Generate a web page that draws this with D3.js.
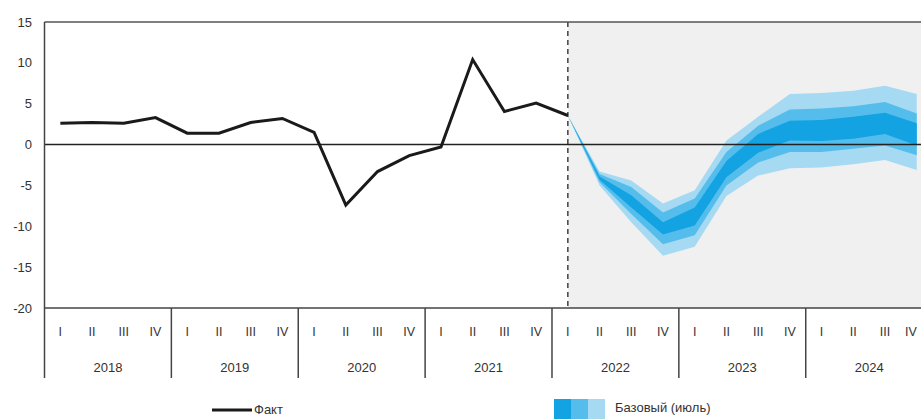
<!DOCTYPE html>
<html>
<head>
<meta charset="utf-8">
<script src="https://cdn.jsdelivr.net/npm/d3@7"></script>
<style>
  html, body { margin: 0; padding: 0; background: #fff; }
  svg { display: block; font-family: 'Liberation Sans Narrow', 'Arial Narrow', 'Liberation Sans', sans-serif; }
</style>
</head>
<body>
<svg id="chart" width="921" height="419"></svg>
<script>
// ---- data ----
const years = ["2018", "2019", "2020", "2021", "2022", "2023", "2024"];
const quarterNames = ["I", "II", "III", "IV"];
const yTicks = [15, 10, 5, 0, -5, -10, -15, -20];

// Fact series: 2018 Q1 .. 2022 Q1
const factValues = [2.6, 2.7, 2.6, 3.3, 1.4, 1.4, 2.7, 3.2, 1.5, -7.4, -3.3, -1.35, -0.3, 10.4, 4.05, 5.07, 3.56];

// Forecast fan: 2022 Q1 .. 2024 Q4
const lightUpper = [3.56, -3.3, -4.4, -7.2, -5.6, 0.5, 3.4, 6.2, 6.3, 6.6, 7.2, 6.2];
const midUpper   = [3.56, -3.6, -5.2, -8.3, -6.6, -0.9, 2.3, 4.3, 4.4, 4.7, 5.2, 3.8];
const darkUpper  = [3.56, -3.9, -6.2, -9.5, -7.7, -2.0, 1.3, 2.9, 3.0, 3.4, 3.9, 2.6];
const darkLower  = [3.56, -4.3, -7.7, -11.0, -9.9, -4.0, -1.0, 0.5, 0.45, 0.7, 1.3, -0.1];
const midLower   = [3.56, -4.6, -8.5, -12.2, -11.1, -5.0, -2.2, -0.9, -0.9, -0.5, -0.1, -1.3];
const lightLower = [3.56, -5.0, -9.5, -13.6, -12.5, -6.3, -3.8, -2.9, -2.8, -2.4, -1.9, -3.1];

const factLabel = "Факт";
const fanLabel = "Базовый (июль)";

(function () {
// ---- layout ----
const W = 921;
const pLeft = 44.5, pRight = 932.6, pTop = 22, pBottom = 308, axisBottom = 378;
const colors = { light: "#a6daf3", mid: "#55bdec", dark: "#13a3e2", bg: "#f0f0f0" };

const quarters = [];
years.forEach(yr => quarterNames.forEach(q => quarters.push(yr + "-" + q)));

const x = d3.scaleBand().domain(quarters).range([pLeft, pRight]).padding(0);
const cx = k => x(k) + x.bandwidth() / 2;
const y = d3.scaleLinear().domain([-20, 15]).range([pBottom, pTop]);

const svg = d3.select("#chart");

const factKeys = quarters.slice(0, factValues.length);
const fanStart = factValues.length - 1;
const fanKeys = quarters.slice(fanStart, fanStart + lightUpper.length);

// forecast background
const xStart = cx(fanKeys[0]);
svg.append("rect")
  .attr("x", xStart).attr("y", pTop)
  .attr("width", W - xStart).attr("height", pBottom - pTop)
  .attr("fill", colors.bg);

// fan bands
const bands = [
  { lo: lightLower, hi: lightUpper, c: colors.light },
  { lo: midLower, hi: midUpper, c: colors.mid },
  { lo: darkLower, hi: darkUpper, c: colors.dark }
];
bands.forEach(b => {
  const area = d3.area()
    .x((d, i) => cx(fanKeys[i]))
    .y0((d, i) => y(b.lo[i]))
    .y1((d, i) => y(b.hi[i]));
  svg.append("path").datum(b.hi).attr("d", area).attr("fill", b.c);
});

// zero line
svg.append("line")
  .attr("x1", pLeft).attr("x2", W)
  .attr("y1", y(0)).attr("y2", y(0))
  .attr("stroke", "#222").attr("stroke-width", 1.4);

// dashed divider
svg.append("line")
  .attr("x1", xStart).attr("x2", xStart)
  .attr("y1", pTop).attr("y2", pBottom)
  .attr("stroke", "#333").attr("stroke-width", 1.4)
  .attr("stroke-dasharray", "5,4");

// frame lines
svg.append("line").attr("x1", pLeft).attr("x2", W).attr("y1", pTop).attr("y2", pTop)
  .attr("stroke", "#555").attr("stroke-width", 1.5);
svg.append("line").attr("x1", pLeft).attr("x2", W).attr("y1", pBottom).attr("y2", pBottom)
  .attr("stroke", "#444").attr("stroke-width", 1.5);
svg.append("line").attr("x1", pLeft).attr("x2", pLeft).attr("y1", pTop).attr("y2", axisBottom)
  .attr("stroke", "#444").attr("stroke-width", 1.5);

// year dividers
years.forEach((yr, i) => {
  if (i === 0) return;
  const xx = x(yr + "-I");
  svg.append("line").attr("x1", xx).attr("x2", xx).attr("y1", pBottom).attr("y2", axisBottom)
    .attr("stroke", "#444").attr("stroke-width", 1.5);
});

// fact line
const line = d3.line().x((d, i) => cx(factKeys[i])).y(d => y(d));
svg.append("path").datum(factValues).attr("d", line)
  .attr("fill", "none").attr("stroke", "#1a1a1a").attr("stroke-width", 3)
  .attr("stroke-linejoin", "miter");

// y axis labels
svg.append("g").selectAll("text").data(yTicks).join("text")
  .attr("x", 32).attr("y", d => y(d)).attr("dy", "0.35em")
  .attr("text-anchor", "end").attr("font-size", 13).attr("fill", "#333")
  .text(d => d);

// quarter labels (keep the last one inside the visible area)
svg.append("g").selectAll("text").data(quarters).join("text")
  .attr("x", d => Math.min(cx(d), W - 10)).attr("y", 332).attr("dy", "0.35em")
  .attr("text-anchor", "middle").attr("font-size", 12.5).attr("fill", "#333")
  .text(d => d.split("-")[1]);

// year labels
svg.append("g").selectAll("text").data(years).join("text")
  .attr("x", d => x(d + "-I") + x.bandwidth() * 2).attr("y", 367).attr("dy", "0.35em")
  .attr("text-anchor", "middle").attr("font-size", 13).attr("fill", "#333")
  .text(d => d);

// legend
svg.append("line").attr("x1", 212).attr("x2", 252).attr("y1", 410).attr("y2", 410)
  .attr("stroke", "#1a1a1a").attr("stroke-width", 3);
svg.append("text").attr("x", 254).attr("y", 409).attr("dy", "0.35em")
  .attr("font-size", 13).attr("fill", "#333").text(factLabel);

[colors.dark, colors.mid, colors.light].forEach((c, i) => {
  svg.append("rect").attr("x", 554 + i * 17).attr("y", 399)
    .attr("width", 17).attr("height", 20).attr("fill", c);
});
svg.append("text").attr("x", 615).attr("y", 407).attr("dy", "0.35em")
  .attr("font-size", 13).attr("fill", "#333").text(fanLabel);
})();
</script>
</body>
</html>
